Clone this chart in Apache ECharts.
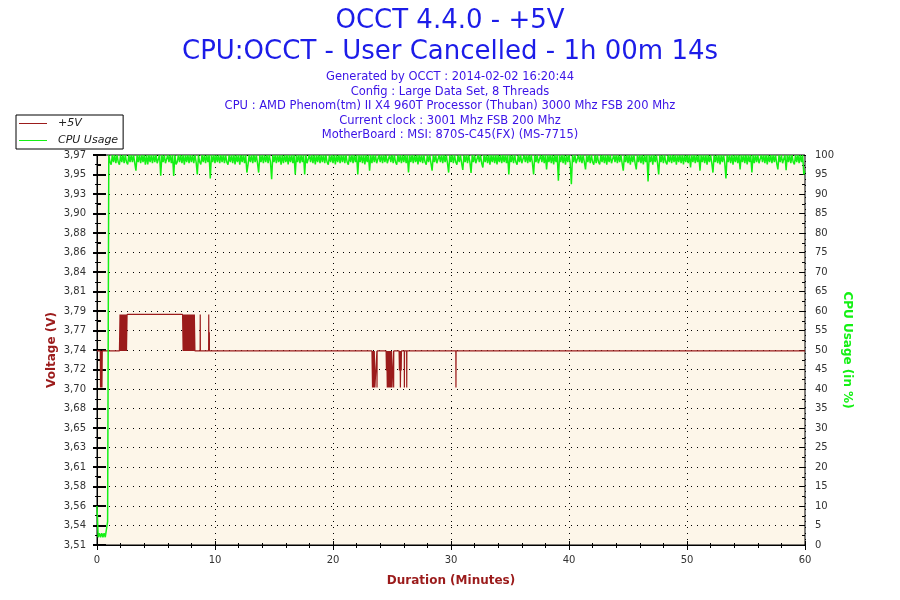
<!DOCTYPE html>
<html>
<head>
<meta charset="utf-8">
<title>OCCT 4.4.0 - +5V</title>
<script src="https://cdn.jsdelivr.net/npm/echarts@6/dist/echarts.min.js"></script>
<style>
    html, body { margin: 0; padding: 0; background: #fff; }
    #main { width: 900px; height: 600px; }
</style>
</head>
<body>
<div id="main"></div>
<script>
/* ============================
   DATOS
============================ */
const titleLines = ['OCCT 4.4.0 - +5V', 'CPU:OCCT - User Cancelled - 1h 00m 14s'];
const infoLines = [
    'Generated by OCCT : 2014-02-02 16:20:44',
    'Config : Large Data Set, 8 Threads',
    'CPU : AMD Phenom(tm) II X4 960T Processor (Thuban) 3000 Mhz FSB 200 Mhz',
    'Current clock : 3001 Mhz FSB 200 Mhz',
    'MotherBoard : MSI: 870S-C45(FX) (MS-7715)'
];

// eje de voltaje: 20 divisiones (3,51 ... 3,97)
const voltMin = 3.51441;
const voltMax = 3.97381;
const voltStep = 0.02297;

// +5V : [minutos, voltios]
const voltTime = [
    0, 0.28, 0.30, 0.33, 0.36, 0.39, 0.42, 0.45,
    1.90, 1.95, 2.00, 2.05, 2.10, 2.15, 2.20, 2.25, 2.30, 2.35, 2.40, 2.45, 2.50, 2.55,
    7.25, 7.30, 7.35, 7.40, 7.45, 7.50, 7.55, 7.60, 7.65, 7.70, 7.75, 7.80, 7.85, 7.90, 7.95, 8.00, 8.05, 8.10, 8.15, 8.20, 8.25, 8.30,
    8.74, 8.75, 8.76, 9.46, 9.47, 9.48, 9.52, 9.53,
    23.30, 23.35, 23.40, 23.45, 23.50, 23.55,
    23.72, 23.73, 23.74,
    24.50, 24.53, 24.56, 24.60, 24.65, 24.70, 24.75, 24.80, 24.85, 24.90, 24.95, 25.00,
    25.13, 25.14, 25.15,
    25.60, 25.63, 25.66, 25.70, 25.71, 25.75, 25.78, 25.80,
    26.04, 26.05, 26.06, 26.24, 26.25, 26.26,
    30.41, 30.42, 30.43,
    60
];
const voltValue = [
    3.743, 3.743, 3.700, 3.743, 3.700, 3.743, 3.700, 3.743,
    3.743, 3.786, 3.743, 3.786, 3.743, 3.786, 3.743, 3.786, 3.743, 3.786, 3.743, 3.786, 3.743, 3.786,
    3.786, 3.743, 3.786, 3.743, 3.786, 3.743, 3.786, 3.743, 3.786, 3.743, 3.786, 3.743, 3.786, 3.743, 3.786, 3.743, 3.786, 3.743, 3.786, 3.743, 3.786, 3.743,
    3.743, 3.786, 3.743, 3.743, 3.786, 3.743, 3.765, 3.743,
    3.743, 3.700, 3.743, 3.700, 3.743, 3.700,
    3.743, 3.700, 3.743,
    3.743, 3.720, 3.743, 3.700, 3.743, 3.700, 3.743, 3.700, 3.743, 3.700, 3.743, 3.700,
    3.743, 3.700, 3.743,
    3.743, 3.720, 3.743, 3.720, 3.700, 3.743, 3.720, 3.743,
    3.743, 3.700, 3.743, 3.743, 3.700, 3.743,
    3.743, 3.700, 3.743,
    3.743
];

// CPU Usage (%) : una muestra cada 0,1 minutos desde 0
const cpuStep = 0.1;
const cpuUsage = [
    10, 2, 3, 2, 3, 2, 3, 2, 2, 6,                                   // 0
    100, 98.2, 97.5, 100, 98.2, 100, 97.9, 100, 98.2, 97.5,          // 1
    100, 98.2, 100, 97.9, 100, 98.2, 97.6, 100, 98.2, 100,           // 2
    98.2, 100, 97.9, 96, 100, 98.2, 100, 97.9, 100, 98.2,            // 3
    100, 97.5, 100, 97.6, 100, 98.2, 100, 97.9, 100, 98.2,           // 4
    100, 97.9, 98.2, 100, 94.7, 100, 98.2, 100, 97.9, 97.5,          // 5
    100, 98.2, 100, 97.9, 100, 94.6, 100, 97.6, 98.2, 100,           // 6
    98.2, 100, 97.9, 100, 97.5, 100, 98.2, 100, 97.9, 100,           // 7
    98.2, 100, 97.9, 100, 98.2, 95, 100, 98.2, 97.6, 100,            // 8
    98.2, 100, 97.9, 100, 98.2, 100, 94, 100, 98.2, 100,             // 9
    97.9, 100, 98.2, 100, 97.9, 100, 98.2, 100, 97.9, 100,           // 10
    98.2, 97.5, 100, 98.2, 100, 97.9, 100, 97.6, 100, 98.2,          // 11
    100, 97.5, 100, 98.2, 100, 97.9, 100, 95.5, 97.6, 100,           // 12
    98.2, 100, 97.9, 100, 98.2, 100, 97.9, 95.5, 100, 98.2,          // 13
    100, 97.9, 100, 98.2, 100, 97.9, 100, 98.2, 93.8, 100,           // 14
    98.2, 100, 97.9, 100, 98.2, 100, 97.5, 100, 97.9, 100,           // 15
    98.2, 100, 97.6, 100, 98.2, 100, 97.9, 100, 95, 100,             // 16
    98.2, 100, 97.9, 100, 98.2, 100, 95, 100, 97.9, 97.5,            // 17
    100, 98.2, 100, 97.9, 100, 97.6, 100, 98.2, 100, 97.9,           // 18
    100, 98.2, 100, 97.9, 100, 98.2, 97.5, 100, 98.2, 100,           // 19
    97.9, 100, 97.6, 100, 98.2, 100, 97.9, 100, 98.2, 100,           // 20
    97.9, 100, 98.2, 97.5, 100, 98.2, 100, 97.9, 100, 98.2,          // 21
    100, 95, 100, 98.2, 100, 97.9, 100, 97.6, 100, 98.2,             // 22
    100, 96, 100, 97.9, 100, 98.2, 100, 97.9, 97.5, 100,             // 23
    98.2, 100, 97.9, 100, 98.2, 100, 97.9, 97.6, 100, 98.2,          // 24
    100, 97.9, 100, 98.2, 97.5, 100, 98.2, 100, 97.9, 100,           // 25
    98.2, 100, 97.9, 100, 95.5, 100, 98.2, 100, 97.9, 100,           // 26
    98.2, 100, 97.6, 100, 98.2, 100, 97.9, 100, 98.2, 97.5,          // 27
    100, 98.2, 100, 97.9, 96, 100, 98.2, 100, 97.9, 97.6,            // 28
    100, 98.2, 100, 97.9, 100, 98.2, 100, 97.9, 95.5, 100,           // 29
    98.2, 100, 97.9, 100, 98.2, 97.5, 100, 98.2, 100, 97.9,          // 30
    96.2, 100, 98.2, 100, 97.9, 100, 98.2, 95.4, 100, 98.2,          // 31
    100, 97.9, 97.6, 100, 98.2, 100, 97.9, 96.8, 100, 98.2,          // 32
    100, 97.9, 100, 97.5, 100, 98.2, 100, 97.9, 100, 97.6,           // 33
    100, 98.2, 100, 97.9, 100, 98.2, 100, 97.9, 100, 95,             // 34
    100, 98.2, 100, 97.9, 100, 98.2, 97.5, 100, 98.2, 100,           // 35
    97.9, 97.6, 100, 98.2, 100, 97.9, 100, 98.2, 100, 97.9,          // 36
    95, 100, 98.2, 100, 97.9, 97.5, 100, 98.2, 100, 97.9,            // 37
    100, 96.3, 100, 98.2, 100, 97.9, 100, 97.6, 100, 98.2,           // 38
    100, 93.4, 100, 98.2, 100, 97.9, 100, 97.5, 100, 98.2,           // 39
    100, 97.9, 92.5, 100, 98.2, 100, 97.9, 97.6, 100, 98.2,          // 40
    100, 97.9, 100, 98.2, 96.3, 100, 98.2, 100, 97.9, 100,           // 41
    98.2, 97.5, 100, 97.9, 100, 98.2, 97.6, 100, 98.2, 100,          // 42
    97.9, 100, 97.5, 100, 98.2, 100, 97.9, 97.6, 100, 98.2,          // 43
    100, 97.9, 100, 98.2, 100, 97.9, 96, 100, 98.2, 100,             // 44
    97.9, 100, 97.5, 100, 98.2, 100, 97.9, 96.3, 100, 98.2,          // 45
    100, 97.9, 100, 97.6, 100, 98.2, 100, 93.2, 100, 98.2,           // 46
    100, 97.5, 100, 98.2, 100, 97.9, 95, 100, 98.2, 100,             // 47
    97.9, 100, 98.2, 97.6, 100, 98.2, 100, 97.9, 100, 98.2,          // 48
    100, 97.5, 100, 98.2, 100, 97.9, 100, 97.6, 100, 98.2,           // 49
    100, 97.9, 100, 96.8, 100, 98.2, 100, 97.9, 100, 98.2,           // 50
    100, 96, 100, 98.2, 100, 97.9, 100, 97.5, 100, 98.2,             // 51
    100, 97.9, 95.5, 100, 98.2, 100, 97.9, 100, 97.6, 100,           // 52
    98.2, 100, 97.9, 94, 100, 98.2, 100, 97.9, 100, 97.5,            // 53
    100, 98.2, 100, 97.9, 100, 96.3, 100, 98.2, 100, 97.9,           // 54
    100, 97.6, 100, 98.2, 100, 95.5, 100, 97.9, 100, 98.2,           // 55
    100, 97.9, 97.5, 100, 98.2, 100, 97.9, 100, 97.6, 100,           // 56
    98.2, 100, 97.9, 100, 98.2, 100, 97.9, 96.3, 100, 98.2,          // 57
    100, 97.9, 97.5, 100, 96.1, 100, 98.2, 100, 97.9, 100,           // 58
    98.2, 97.6, 100, 98.2, 100, 97.9, 100, 98.2, 100, 95,            // 59
    96                                                               // 60
];

/* ============================
   ESTILOS
============================ */
const colVolt = '#9b1b1b';
const colCpu = '#14f014';
const fontBase = '"DejaVu Sans", Verdana, sans-serif';
const dotted = { color: '#000', width: 1, type: [1, 5] };

const voltData = voltTime.map((t, i) => [t, voltValue[i]]);
const cpuData = cpuUsage.map((v, i) => [+(i * cpuStep).toFixed(1), v]);

/* ============================
   TITULOS
============================ */
const titles = [];
titleLines.forEach((txt, i) => {
    titles.push({
        text: txt, left: 'center', top: 3 + i * 31,
        textStyle: { color: '#1c1ce8', fontSize: 26, fontWeight: 'normal', fontFamily: fontBase }
    });
});
infoLines.forEach((txt, i) => {
    titles.push({
        text: txt, left: 'center', top: 66.5 + i * 14.4,
        textStyle: { color: '#3a12e6', fontSize: 11.5, fontWeight: 'normal', fontFamily: fontBase }
    });
});

/* ============================
   GRAFICA
============================ */
const chart = echarts.init(document.getElementById('main'));

const option = {
    animation: false,
    backgroundColor: '#fff',
    title: titles,
    legend: {
        orient: 'vertical', left: 16, top: 115,
        backgroundColor: '#fff', borderColor: '#000', borderWidth: 1, borderRadius: 0,
        padding: [3, 5, 3, 3], itemGap: 6, itemWidth: 28, itemHeight: 1,
        textStyle: { fontStyle: 'italic', fontSize: 11, color: '#222', fontFamily: fontBase, padding: [0, 0, 0, 6] },
        data: [
            { name: '+5V', icon: 'rect' },
            { name: 'CPU Usage', icon: 'rect' }
        ]
    },
    grid: {
        left: 97, right: 95, top: 155, bottom: 55,
        show: true, backgroundColor: '#fdf6e9', borderColor: '#000', borderWidth: 1
    },
    xAxis: [
        {
            type: 'value', min: 0, max: 60, interval: 10,
            name: 'Duration (Minutes)', nameLocation: 'middle', nameGap: 30,
            nameTextStyle: { color: colVolt, fontWeight: 'bold', fontSize: 12, fontFamily: fontBase },
            axisLine: { show: true, lineStyle: { color: '#000' } },
            axisTick: { show: true, length: 5, lineStyle: { color: '#000' } },
            minorTick: { show: true, splitNumber: 5, length: 3, lineStyle: { color: '#000' } },
            axisLabel: { color: '#333', fontSize: 10, fontFamily: fontBase, margin: 10 },
            splitLine: { show: true, lineStyle: dotted }
        },
        {
            type: 'value', min: 0, max: 60, interval: 10, position: 'bottom',
            axisLine: { show: false },
            axisTick: { show: true, inside: true, length: 4, lineStyle: { color: '#000' } },
            minorTick: { show: true, splitNumber: 5, length: 2, lineStyle: { color: '#000' } },
            axisLabel: { show: false },
            splitLine: { show: false }
        }
    ],
    yAxis: [
        {
            type: 'value', position: 'left', min: voltMin, max: voltMax, interval: voltStep,
            name: 'Voltage (V)', nameLocation: 'middle', nameGap: 39, nameRotate: 90,
            nameMoveOverlap: false,
            nameTextStyle: { color: colVolt, fontWeight: 'bold', fontSize: 12, fontFamily: fontBase },
            axisLine: { show: true, lineStyle: { color: '#000' } },
            axisTick: { show: true, length: 4, lineStyle: { color: '#000', width: 2 } },
            minorTick: { show: true, splitNumber: 2, length: 2, lineStyle: { color: '#000' } },
            axisLabel: {
                color: '#333', fontSize: 10, fontFamily: fontBase, margin: 11,
                formatter: v => v.toFixed(2).replace('.', ',')
            },
            splitLine: { show: true, lineStyle: dotted }
        },
        {
            type: 'value', position: 'right', min: 0, max: 100, interval: 5,
            name: 'CPU Usage (in %)', nameLocation: 'middle', nameGap: 36, nameRotate: -90,
            nameMoveOverlap: false,
            nameTextStyle: { color: colCpu, fontWeight: 'bold', fontSize: 12, fontFamily: fontBase },
            axisLine: { show: true, lineStyle: { color: '#000' } },
            axisTick: { show: true, length: 7, lineStyle: { color: '#000' } },
            minorTick: { show: true, splitNumber: 2, length: 4, lineStyle: { color: '#000' } },
            axisLabel: { color: '#333', fontSize: 10, fontFamily: fontBase, margin: 10 },
            splitLine: { show: false }
        },
        {
            type: 'value', position: 'left', min: voltMin, max: voltMax, interval: voltStep,
            axisLine: { show: false },
            axisTick: { show: true, inside: true, length: 9, lineStyle: { color: '#000', width: 2 } },
            minorTick: { show: true, splitNumber: 2, length: 4, lineStyle: { color: '#000' } },
            axisLabel: { show: false },
            splitLine: { show: false }
        },
        {
            type: 'value', position: 'right', min: 0, max: 100, interval: 5,
            axisLine: { show: false },
            axisTick: { show: true, inside: true, length: 6, lineStyle: { color: '#000' } },
            minorTick: { show: true, splitNumber: 2, length: 3, lineStyle: { color: '#000' } },
            axisLabel: { show: false },
            splitLine: { show: false }
        }
    ],
    series: [
        {
            name: '+5V', type: 'line', xAxisIndex: 0, yAxisIndex: 0,
            data: voltData, showSymbol: false, symbol: 'none',
            lineStyle: { color: colVolt, width: 1.2 }, itemStyle: { color: colVolt },
            z: 3
        },
        {
            name: 'CPU Usage', type: 'line', xAxisIndex: 0, yAxisIndex: 1,
            data: cpuData, showSymbol: false, symbol: 'none', sampling: null,
            lineStyle: { color: colCpu, width: 1.5 }, itemStyle: { color: colCpu },
            z: 4
        }
    ]
};

chart.setOption(option);
window.addEventListener('resize', () => chart.resize());
</script>
</body>
</html>
